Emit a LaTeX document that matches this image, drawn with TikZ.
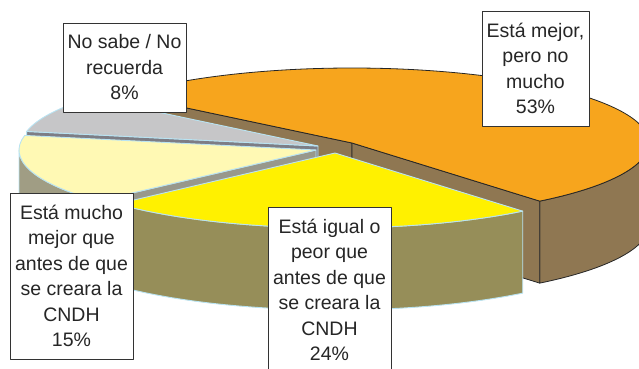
\documentclass[tikz,border=0pt]{standalone}
\usepackage{fontspec}
\setmainfont{Liberation Sans}
\usepackage{tikz}
\usetikzlibrary{calc, positioning}

\definecolor{mejortop}{HTML}{F7A51D}
\definecolor{mejorside}{HTML}{8F7752}
\definecolor{nosabetop}{HTML}{C6C6C8}
\definecolor{nosabecut}{HTML}{7D7D85}
\definecolor{muchotop}{HTML}{FFF9B4}
\definecolor{muchoside}{HTML}{A09D84}
\definecolor{muchocut}{HTML}{98988C}
\definecolor{igualtop}{HTML}{FFF100}
\definecolor{igualside}{HTML}{968E59}
\definecolor{rim}{HTML}{B9E3F2}

\begin{document}
\begin{tikzpicture}[x=1pt,y=1pt,line join=round,
 pie arc/.style={x radius=297pt, y radius=75pt},
 dark edge/.style={draw=black!85, line width=0.8pt},
 light edge/.style={draw=rim, line width=0.9pt},
 label box/.style={draw=black!80, fill=white, line width=0.8pt, align=center,
  inner sep=0pt, text=black!85, font=\fontsize{19.5}{25.5}\selectfont}]
  \useasboundingbox (0,0) rectangle (639,368);

  % slice centres
  \coordinate (mejor) at (352,225);
  \coordinate (nosabe) at (318,222);
  \coordinate (mucho) at (316,218);
  \coordinate (igual) at (335,215);

  % Esta mejor, 53%
  \path[dark edge, fill=mejorside] ($(mejor)+(-50.8:297pt and 75pt)$)
    arc[pie arc, start angle=-50.8, end angle=0] -- ++(0,-82)
    arc[pie arc, start angle=0, end angle=-50.8] -- cycle;
  \foreach \a in {140, -50.8} {
   \path[dark edge, fill=mejorside] (mejor) -- ($(mejor)+(\a:297pt and 75pt)$)
     -- ++(0,-82) -- ($(mejor)+(0,-82)$) -- cycle;}
  \path[dark edge, fill=mejortop] (mejor) -- ($(mejor)+(-50.8:297pt and 75pt)$)
    arc[pie arc, start angle=-50.8, end angle=140] -- cycle;

  % No sabe, 8%
  \path[light edge, fill=nosabecut] (nosabe) -- ($(nosabe)+(168.8:297pt and 75pt)$)
    -- ++(0,-82) -- ($(nosabe)+(0,-82)$) -- cycle;
  \path[light edge, fill=nosabetop] (nosabe) -- ($(nosabe)+(140:297pt and 75pt)$)
    arc[pie arc, start angle=140, end angle=168.8] -- cycle;

  % Esta mucho mejor, 15%
  \path[light edge, fill=muchoside] ($(mucho)+(180:297pt and 75pt)$)
    arc[pie arc, start angle=180, end angle=222.8] -- ++(0,-82)
    arc[pie arc, start angle=222.8, end angle=180] -- cycle;
  \path[light edge, fill=muchocut] (mucho) -- ($(mucho)+(222.8:297pt and 75pt)$)
    -- ++(0,-82) -- ($(mucho)+(0,-82)$) -- cycle;
  \path[light edge, fill=muchotop] (mucho) -- ($(mucho)+(168.8:297pt and 75pt)$)
    arc[pie arc, start angle=168.8, end angle=222.8] -- cycle;

  % Esta igual o peor, 24%
  \path[light edge, fill=igualside] ($(igual)+(222.8:297pt and 75pt)$)
    arc[pie arc, start angle=222.8, end angle=309.2] -- ++(0,-82)
    arc[pie arc, start angle=309.2, end angle=222.8] -- cycle;
  \path[light edge, fill=igualtop] (igual) -- ($(igual)+(222.8:297pt and 75pt)$)
    arc[pie arc, start angle=222.8, end angle=309.2] -- cycle;

  % labels
  \node[label box, minimum width=107, minimum height=115] (mejor label)
    at (535.5,299.5) {Está mejor,\\pero no\\mucho\\53\%};
  \node[label box, minimum width=123, minimum height=89] (nosabe label)
    at (124.5,300.5) {No sabe / No\\recuerda\\8\%};
  \node[label box, minimum width=123, minimum height=166] (mucho label)
    at (71.5,92) {Está mucho\\mejor que\\antes de que\\se creara la\\CNDH\\15\%};
  \node[label box, minimum width=123, minimum height=166] (igual label)
    at (329.5,78) {Está igual o\\peor que\\antes de que\\se creara la\\CNDH\\24\%};
\end{tikzpicture}
\end{document}
